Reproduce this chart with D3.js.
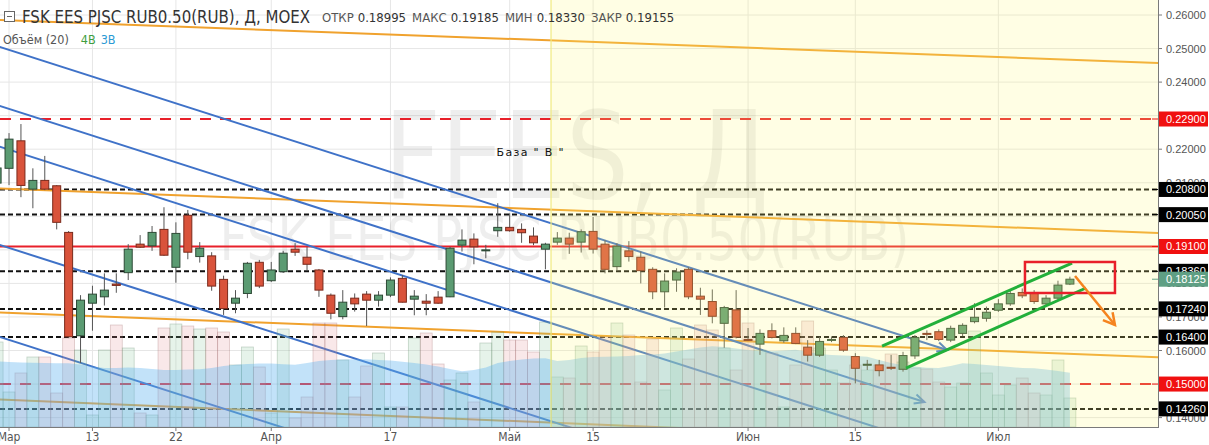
<!DOCTYPE html>
<html><head><meta charset="utf-8">
<script src="https://cdn.jsdelivr.net/npm/d3@7"></script>
<style>
body{margin:0;background:#fff;}
svg{display:block;}
</style></head><body>
<svg id="chart" width="1209" height="445"></svg>
<script>
// ---------------- DATA ----------------
const tickIndex  = [1, 8, 15, 23, 33, 43, 50, 63, 72, 84];
const tickLabels = ["Мар","13","22","Апр","17","Май","15","Июн","15","Июл"];
const priceTicks = [0.14,0.15,0.16,0.17,0.18,0.19,0.20,0.21,0.22,0.23,0.24,0.25,0.26];

const open = [.2099,.2143,.2225,.2081,.2107,.2091,.1952,.1644,.1741,.1760,.1798,.1832,.1917,.1912,.1961,.1848,.2003,.1880,.1882,.1812,
.1741,.1770,.1863,.1808,.1835,.1902,.1878,.1840,.1765,.1701,.1756,.1768,.1750,.1765,.1815,.1753,.1747,.1759,.1760,.1914,
.1932,.1899,.1957,.1967,.1961,.1941,.1902,.1923,.1935,.1923,.1955,.1917,.1850,.1897,.1878,.1842,.1775,.1810,.1842,.1762,
.1746,.1681,.1721,.1633,.1619,.1659,.1629,.1651,.1610,.1586,.1632,.1639,.1582,.1558,.1557,.1550,.1544,.1584,.1651,.1656,
.1631,.1651,.1686,.1696,.1720,.1739,.1773,.1770,.1739,.1756,.1798];
const high = [.2168,.2248,.2275,.2143,.2180,.2093,.1956,.1765,.1793,.1830,.1830,.1917,.1944,.1971,.2027,.1982,.2019,.1923,.1893,.1823,
.1780,.1864,.1870,.1864,.1897,.1920,.1909,.1843,.1770,.1780,.1770,.1777,.1777,.1818,.1825,.1780,.1768,.1777,.1909,.1961,
.1949,.1915,.2039,.2009,.1979,.1967,.1921,.1953,.1951,.1961,.1998,.1929,.1920,.1926,.1895,.1848,.1830,.1845,.1848,.1787,
.1782,.1733,.1780,.1667,.1663,.1681,.1669,.1669,.1631,.1641,.1642,.1646,.1592,.1572,.1572,.1587,.1596,.1646,.1660,.1663,
.1674,.1681,.1741,.1731,.1753,.1780,.1785,.1780,.1765,.1808,.1820];
const low = [.2078,.2093,.2057,.2024,.2078,.1961,.1637,.1563,.1659,.1734,.1772,.1810,.1906,.1897,.1882,.1802,.1872,.1862,.1778,.1706,
.1711,.1756,.1786,.1804,.1831,.1882,.1840,.1760,.1693,.1693,.1716,.1673,.1731,.1759,.1743,.1705,.1705,.1739,.1759,.1895,
.1857,.1875,.1939,.1954,.1921,.1914,.1842,.1915,.1888,.1892,.1889,.1830,.1837,.1865,.1800,.1753,.1728,.1775,.1753,.1706,
.1681,.1608,.1636,.1628,.1587,.1636,.1623,.1619,.1567,.1581,.1625,.1596,.1502,.1542,.1523,.1542,.1537,.1575,.1631,.1628,
.1625,.1643,.1681,.1686,.1715,.1733,.1756,.1739,.1731,.1752,.1795];
const close = [.2144,.2230,.2092,.2107,.2081,.1982,.1641,.1750,.1768,.1780,.1794,.1902,.1908,.1952,.1884,.1949,.1893,.1905,.1792,.1725,
.1756,.1860,.1792,.1840,.1890,.1893,.1857,.1780,.1711,.1744,.1739,.1750,.1765,.1810,.1744,.1762,.1741,.1741,.1905,.1929,
.1909,.1900,.1967,.1957,.1951,.1921,.1917,.1935,.1917,.1954,.1902,.1842,.1911,.1880,.1838,.1775,.1807,.1834,.1760,.1753,
.1702,.1728,.1640,.1631,.1651,.1639,.1645,.1621,.1586,.1627,.1633,.1601,.1547,.1559,.1540,.1549,.1585,.1639,.1649,.1633,
.1666,.1675,.1699,.1714,.1739,.1770,.1763,.1746,.1756,.1795,.18125];
const volume = [8.5,3.5,5.4,7.0,7.0,3.4,8.9,7.7,1.2,7.7,10.2,7.9,1.4,1.2,9.9,10.3,10.1,9.8,9.9,9.5,
6.2,8.0,6.0,1.4,9.8,0.9,3.0,10.4,10.4,6.7,3.0,6.1,7.4,2.0,2.0,8.9,9.4,6.3,4.7,5.4,
2.5,8.4,9.5,8.7,8.7,7.5,10.5,5.0,4.9,8.1,7.5,9.0,10.4,9.2,4.5,8.8,3.7,9.9,6.8,10.2,
9.7,7.9,5.7,10.4,7.7,7.4,2.0,6.2,10.6,7.9,5.7,4.4,6.2,5.7,6.2,7.3,6.5,5.9,5.8,4.5,
4.0,4.4,9.6,5.4,3.2,4.2,4.9,3.4,3.2,6.7,2.9];
const volumeMA = [6.55,6.5,6.45,6.43,6.4,6.38,6.37,6.25,6.05,5.9,5.9,5.95,5.9,5.8,5.7,5.7,5.75,5.77,5.9,6.1,
6.22,6.3,6.35,6.35,6.27,6.22,6.4,6.6,6.7,6.74,6.77,6.77,6.7,6.65,6.52,6.4,6.25,6.05,5.8,5.57,
5.7,5.95,6.4,6.6,6.75,6.85,6.87,6.6,6.7,6.9,7.0,7.03,7.05,7.1,7.2,7.25,7.35,7.55,7.75,7.95,
8.08,8.0,7.85,7.7,7.57,7.57,7.65,7.72,7.5,7.3,7.2,7.15,7.1,7.03,6.7,6.4,6.17,6.05,5.92,5.9,
6.1,6.37,6.3,6.2,6.1,6.0,5.9,5.87,5.75,5.6,5.43];

const blackDashedLevels = [0.2080, 0.2005, 0.1836, 0.1724, 0.1640, 0.1426];
const redDashedLevels   = [0.2290, 0.1500];
const redSolidLevels    = [0.1910];
const lastClose = 0.18125;
const highlightStart = 46.47;   // index where the highlighted zone begins

// trend lines: [index1, price1, index2, price2]
const orangeLines = [[-1,0.25867,100,0.24536],[-1,0.20846,100,0.19466],[-1,0.17150,100,0.15762],[-1,0.14558,59,0.13663]];
const blueLines   = [[-1,0.25186,79.7,0.16015],[-1,0.23428,77.8,0.14465],[-1,0.22215,84.1,0.12536],[-1,0.19285,59,0.12468],[-1,0.16543,33.8,0.12587]];
const blueArrowEnds = [true,true,false,false,false];
const greenChannel = [[74.24,0.16134,90.18,0.18608],[76.25,0.15478,91.35,0.17863]];
const redBox = [86.23,0.18638,93.78,0.17714];
const orangeArrow = [90.43,0.18221,93.78,0.16760];
const noteText = {i:41.9, p:0.21797, text:'База  "  В  "'};

// header
const title = "FSK EES PJSC RUB0.50(RUB), Д, MOEX";
const ohlcLabels = ["ОТКР","МАКС","МИН","ЗАКР"];
const ohlcValues = ["0.18995","0.19185","0.18330","0.19155"];

// ---------------- DRAW ----------------
const plotRight = 1158, plotBottom = 427;
const narrow = "'Liberation Sans Narrow','Arial Narrow','DejaVu Sans Condensed',sans-serif";
const svg = d3.select("#chart");
const x = d3.scaleLinear().domain([0, 90]).range([-2.9, 1069.9]);
const y = d3.scaleLinear().domain([0.13, 0.26]).range([451.15, 15]);
const yv = d3.scaleLinear().domain([0, 10]).range([plotBottom, plotBottom-100]);

const defs = svg.append("defs");
defs.append("clipPath").attr("id","pc").append("rect").attr("x",0).attr("y",0).attr("width",plotRight).attr("height",plotBottom);

svg.append("rect").attr("width",1209).attr("height",445).attr("fill","#fff");
const g = svg.append("g").attr("clip-path","url(#pc)");

// grid
g.selectAll(".vg").data(tickIndex).join("line").attr("x1",d=>x(d)).attr("x2",d=>x(d)).attr("y1",0).attr("y2",plotBottom)
  .attr("stroke","#e6e6e6").attr("stroke-width",1);
g.selectAll(".hg").data(priceTicks).join("line").attr("x1",0).attr("x2",plotRight).attr("y1",d=>y(d)).attr("y2",d=>y(d))
  .attr("stroke","#e6e6e6").attr("stroke-width",1);

// watermark
g.append("text").attr("x",x(48.6)).attr("y",y(0.2055)).attr("text-anchor","middle").attr("textLength",385).attr("lengthAdjust","spacingAndGlyphs")
  .style("font-family",narrow).style("font-size","122px").attr("fill","rgba(0,0,0,0.065)").text("FEES, Д");
g.append("text").attr("x",x(47.6)).attr("y",y(0.1871)).attr("text-anchor","middle").attr("textLength",690).attr("lengthAdjust","spacingAndGlyphs")
  .style("font-family",narrow).style("font-size","60px").attr("fill","rgba(0,0,0,0.065)").text("FSK EES PJSC RUB0.50(RUB)");

// horizontal levels
g.selectAll(".bl").data(blackDashedLevels).join("line").attr("x1",0).attr("x2",plotRight)
  .attr("y1",d=>y(d)).attr("y2",d=>y(d)).attr("stroke","#111").attr("stroke-width",2).attr("stroke-dasharray","5,3");
g.selectAll(".rd").data(redDashedLevels).join("line").attr("x1",0).attr("x2",plotRight)
  .attr("y1",d=>y(d)).attr("y2",d=>y(d)).attr("stroke","#e8202a").attr("stroke-width",2).attr("stroke-dasharray","11,9");
g.selectAll(".rs").data(redSolidLevels).join("line").attr("x1",0).attr("x2",plotRight)
  .attr("y1",d=>y(d)).attr("y2",d=>y(d)).attr("stroke","#e8202a").attr("stroke-width",2);

// trend lines
g.selectAll(".ol").data(orangeLines).join("line")
  .attr("x1",d=>x(d[0])).attr("y1",d=>y(d[1])).attr("x2",d=>x(d[2])).attr("y2",d=>y(d[3]))
  .attr("stroke","#f0a22e").attr("stroke-width",2);
function headPath(x1,y1,x2,y2,len,ang){
  const a = Math.atan2(y1-y2, x1-x2);
  const p1=[x2+len*Math.cos(a+ang), y2+len*Math.sin(a+ang)];
  const p2=[x2+len*Math.cos(a-ang), y2+len*Math.sin(a-ang)];
  return `M${p1[0]},${p1[1]}L${x2},${y2}L${p2[0]},${p2[1]}`;
}
blueLines.forEach((d,i)=>{
  const x1=x(d[0]),y1=y(d[1]),x2=x(d[2]),y2=y(d[3]);
  g.append("line").attr("x1",x1).attr("y1",y1).attr("x2",x2).attr("y2",y2).attr("stroke","#3f72c8").attr("stroke-width",2);
  if(blueArrowEnds[i]) g.append("path").attr("d",headPath(x1,y1,x2,y2,11,0.45)).attr("fill","none").attr("stroke","#3f72c8").attr("stroke-width",2);
});

// volume
const isUp = i => close[i] >= open[i];
g.selectAll(".vb").data(volume).join("rect")
  .attr("x",(d,i)=>x(i)-5.96).attr("width",11.92).attr("y",d=>yv(d)).attr("height",d=>plotBottom-yv(d))
  .attr("fill",(d,i)=>isUp(i)?"rgba(130,195,150,0.2)":"rgba(225,140,145,0.2)")
  .attr("stroke",(d,i)=>isUp(i)?"rgba(100,140,110,0.35)":"rgba(160,110,110,0.35)").attr("stroke-width",0.8);
const area = d3.area().x((d,i)=>x(i)).y0(plotBottom).y1(d=>yv(d));
g.append("path").datum(volumeMA).attr("d",area).attr("fill","rgba(95,180,240,0.38)");

// candles
const idx = d3.range(open.length);
g.selectAll(".wk").data(idx).join("line").attr("x1",i=>x(i)).attr("x2",i=>x(i))
  .attr("y1",i=>y(high[i])).attr("y2",i=>y(low[i])).attr("stroke","#555").attr("stroke-width",1);
g.selectAll(".bd").data(idx).join("rect")
  .attr("x",i=>x(i)-4).attr("width",8)
  .attr("y",i=>y(Math.max(open[i],close[i])))
  .attr("height",i=>Math.max(1,Math.abs(y(open[i])-y(close[i]))))
  .attr("fill",i=>isUp(i)?"#5b9b72":"#d9533b")
  .attr("stroke",i=>isUp(i)?"#2d4a36":"#7a2a1c").attr("stroke-width",1);

// highlighted zone
g.append("rect").attr("x",x(highlightStart)).attr("y",0).attr("width",plotRight-x(highlightStart)).attr("height",plotBottom)
  .attr("fill","rgb(255,250,120)").attr("opacity",0.2);
g.append("line").attr("x1",x(highlightStart)).attr("x2",x(highlightStart)).attr("y1",0).attr("y2",plotBottom)
  .attr("stroke","#f0ea80").attr("stroke-width",1.2);

// annotations
g.append("text").attr("x",x(noteText.i)).attr("y",y(noteText.p)).attr("textLength",67).attr("lengthAdjust","spacing")
  .style("font-family","'DejaVu Sans',sans-serif").style("font-size","11px").attr("fill","#111").text(noteText.text);
g.selectAll(".gc").data(greenChannel).join("line")
  .attr("x1",d=>x(d[0])).attr("y1",d=>y(d[1])).attr("x2",d=>x(d[2])).attr("y2",d=>y(d[3]))
  .attr("stroke","#22b03a").attr("stroke-width",3);
g.append("rect").attr("x",x(redBox[0])).attr("y",y(redBox[1])).attr("width",x(redBox[2])-x(redBox[0])).attr("height",y(redBox[3])-y(redBox[1]))
  .attr("fill","none").attr("stroke","#e8202a").attr("stroke-width",2.5);
{
  const x1=x(orangeArrow[0]),y1=y(orangeArrow[1]),x2=x(orangeArrow[2]),y2=y(orangeArrow[3]);
  g.append("line").attr("x1",x1).attr("y1",y1).attr("x2",x2).attr("y2",y2).attr("stroke","#f5841f").attr("stroke-width",2.5);
  g.append("path").attr("d",headPath(x1,y1,x2,y2,13,0.5)).attr("fill","none").attr("stroke","#f5841f").attr("stroke-width",2.5);
}

// x axis
svg.append("line").attr("x1",0).attr("x2",plotRight).attr("y1",plotBottom+0.5).attr("y2",plotBottom+0.5).attr("stroke","#7a7a7a");
svg.selectAll(".xt").data(tickIndex).join("line").attr("x1",d=>x(d)).attr("x2",d=>x(d)).attr("y1",plotBottom).attr("y2",plotBottom+4).attr("stroke","#7a7a7a");
svg.selectAll(".xl").data(tickLabels).join("text").attr("x",(d,i)=>x(tickIndex[i])).attr("y",441).attr("text-anchor","middle")
  .style("font-family",narrow).style("font-size","12px").attr("fill","#555").text(d=>d);

// y axis
svg.append("line").attr("x1",plotRight+0.5).attr("x2",plotRight+0.5).attr("y1",0).attr("y2",plotBottom+1).attr("stroke","#7a7a7a");
const fmt = d3.format(".5f");
svg.selectAll(".yt").data(priceTicks).join("line").attr("x1",plotRight).attr("x2",plotRight+4).attr("y1",d=>y(d)).attr("y2",d=>y(d)).attr("stroke","#7a7a7a");
svg.selectAll(".yl").data(priceTicks).join("text").attr("x",1166).attr("y",d=>y(d)+4)
  .style("font-family","'Liberation Sans',Arial,sans-serif").style("font-size","11px").attr("fill","#555").text(d=>fmt(d));

function priceLabel(p, bg){
  const gg = svg.append("g");
  gg.append("line").attr("x1",plotRight-6).attr("x2",plotRight).attr("y1",y(p)).attr("y2",y(p)).attr("stroke",bg).attr("stroke-width",1);
  gg.append("rect").attr("x",plotRight+1).attr("y",y(p)-7.5).attr("width",1209-plotRight-2).attr("height",15).attr("fill",bg);
  gg.append("text").attr("x",1166).attr("y",y(p)+4).style("font-family","'Liberation Sans',Arial,sans-serif").style("font-size","11px")
    .attr("fill","#fff").text(fmt(p));
}
redDashedLevels.forEach(p=>priceLabel(p,"#f01010"));
blackDashedLevels.forEach(p=>priceLabel(p,"#000"));
redSolidLevels.forEach(p=>priceLabel(p,"#f01010"));
priceLabel(lastClose,"#5f9f84");

// header
const hg = svg.append("g");
hg.append("rect").attr("x",4.5).attr("y",11.5).attr("width",10).attr("height",10).attr("fill","#fff").attr("stroke","#666");
hg.append("line").attr("x1",7).attr("x2",12).attr("y1",16.5).attr("y2",16.5).attr("stroke","#666");
hg.append("text").attr("x",22).attr("y",23).attr("textLength",288).attr("lengthAdjust","spacingAndGlyphs")
  .style("font-family",narrow).style("font-size","18px").attr("fill","#333").text(title);
const oh = hg.append("text").attr("x",322).attr("y",22).style("font-family",narrow).style("font-size","13px");
ohlcLabels.forEach((l,i)=>{
  oh.append("tspan").attr("fill","#555").attr("dx",i?6:0).text(l);
  oh.append("tspan").attr("fill","#333").attr("dx",4).text(ohlcValues[i]);
});
const vl = hg.append("text").attr("x",3).attr("y",44).style("font-family",narrow).style("font-size","12.5px");
vl.append("tspan").attr("fill","#555").text("Объём (20)");
vl.append("tspan").attr("fill","#3f9e3f").attr("dx",12).text("4В");
vl.append("tspan").attr("fill","#2b9ad4").attr("dx",5).text("3В");
</script>
</body></html>
